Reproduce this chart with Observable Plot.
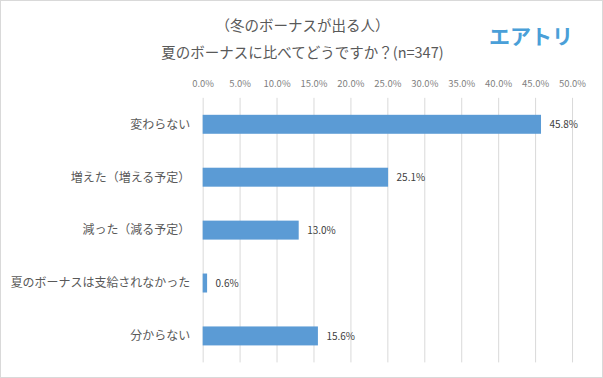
<!DOCTYPE html>
<html>
<head>
<meta charset="utf-8">
<script src="https://cdn.jsdelivr.net/npm/d3@7"></script>
<script src="https://cdn.jsdelivr.net/npm/@observablehq/plot@0.6"></script>
<style>
  html, body { margin: 0; padding: 0; background: #fff; }
  #wrap { position: relative; width: 603px; height: 378px; box-sizing: border-box; border: 1px solid #d9d9d9; overflow: hidden; font-family: "Noto Sans CJK JP", "Noto Sans", sans-serif; }
  #chart { position: absolute; left: -1px; top: -1px; }
  .title { position: absolute; left: 0; width: 603px; text-align: center; color: #595959; font-size: 14.5px; line-height: 1; white-space: nowrap; }
  #t1 { top: 17px; }
  #t2 { top: 44px; }
  #logo { position: absolute; left: 488px; top: 24px; color: #4a9fd8; font-size: 21px; font-weight: bold; line-height: 1; letter-spacing: 0px; }
</style>
</head>
<body>
<div id="wrap">
  <div id="chart"></div>
  <div class="title" id="t1">（冬のボーナスが出る人）</div>
  <div class="title" id="t2">夏のボーナスに比べてどうですか？(n=347)</div>
  <div id="logo">エアトリ</div>
</div>
<script>
const categories = ["変わらない", "増えた（増える予定）", "減った（減る予定）", "夏のボーナスは支給されなかった", "分からない"];
const values = [45.8, 25.1, 13.0, 0.6, 15.6];
const tickValues = [0, 5, 10, 15, 20, 25, 30, 35, 40, 45, 50];

const data = categories.map((c, i) => ({category: c, value: values[i]}));

const chart = Plot.plot({
  width: 603,
  height: 378,
  marginLeft: 203,
  marginRight: 30,
  marginTop: 98,
  marginBottom: 15,
  style: {fontFamily: '"Noto Sans CJK JP", "Noto Sans", sans-serif', background: "transparent", overflow: "visible"},
  x: {domain: [0, 50], axis: null, label: null},
  y: {domain: categories, paddingInner: 0.65, paddingOuter: 0.325, axis: null, label: null},
  marks: [
    Plot.ruleX(tickValues, {stroke: "#d9d9d9", strokeWidth: 1}),
    Plot.axisX(tickValues, {anchor: "top", label: null, tickSize: 0, tickPadding: 11, tickFormat: d => d.toFixed(1) + "%", fill: "#7f7f7f", fontSize: 9.5}),
    Plot.axisY({label: null, tickSize: 0, tickPadding: 13, fill: "#595959", fontSize: 12}),
    Plot.barX(data, {x: "value", y: "category", fill: "#5b9bd5"}),
    Plot.text(data, {x: "value", y: "category", text: d => d.value.toFixed(1) + "%", dx: 8, textAnchor: "start", fill: "#404040", fontSize: 10})
  ]
});
document.getElementById("chart").appendChild(chart);
</script>
</body>
</html>
